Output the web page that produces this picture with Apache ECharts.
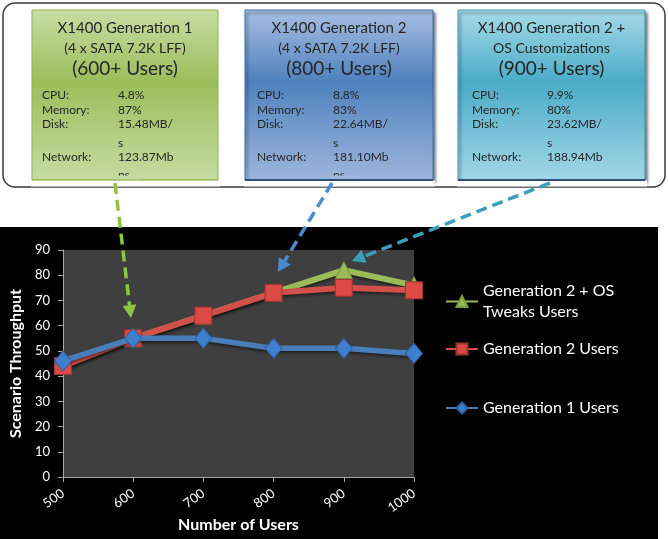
<!DOCTYPE html>
<html>
<head>
<meta charset="utf-8">
<script src="https://cdn.jsdelivr.net/npm/echarts@6/dist/echarts.min.js"></script>
<style>html,body{margin:0;padding:0;background:#fff;}#c{width:668px;height:539px;}</style>
</head>
<body>
<div id="c"></div>
<script>
// ---- data ----
const categories = ['500', '600', '700', '800', '900', '1000'];
const gen1Users = [46, 55, 55, 51, 51, 49];
const gen2Users = [44, 55, 64, 73, 75, 74];
const gen2OsUsers = [44, 55, 64, 73, 82, 76];
const seriesNames = ['Generation 2 + OS Tweaks Users', 'Generation 2 Users', 'Generation 1 Users'];
const yTicks = { min: 0, max: 90, interval: 10 };

const boxTitles = [
  ['X1400 Generation 1', '(4 x SATA 7.2K LFF)', '(600+ Users)'],
  ['X1400 Generation 2', '(4 x SATA 7.2K LFF)', '(800+ Users)'],
  ['X1400 Generation 2 +', 'OS Customizations', '(900+ Users)']
];
const statLabels = ['CPU:', 'Memory:', 'Disk:', '', 'Network:'];
const boxStats = [
  ['4.8%', '87%', '15.48MB/', 's', '123.87Mb'],
  ['8.8%', '83%', '22.64MB/', 's', '181.10Mb'],
  ['9.9%', '80%', '23.62MB/', 's', '188.94Mb']
];
const boxClipped = ['ps', 'ps', ''];

// ---- layout / styles ----
const boxes = [
  { x: 32, w: 186, lx: 42, vx: 118, c: ['#c9dda4', '#9cbd5b', '#c6dba2'], border: '#8fb54a', shadow: false },
  { x: 245, w: 188, lx: 257, vx: 333, c: ['#a9bfe2', '#4f81bd', '#9db6dc'], border: '#3f6fae', shadow: true },
  { x: 458, w: 187, lx: 472, vx: 547, c: ['#a8dbe9', '#4aabc7', '#a2d7e7'], border: '#3b9cb8', shadow: true }
];
const boxTop = 10, boxH = 170;
const titleY = [28, 48, 69];
const statY = [95, 110, 124, 143, 157];
const boxFont = 'Lato, "Open Sans", sans-serif';

const graphics = [];
graphics.push({ type: 'rect', z: -100, shape: { x: 0, y: 227, width: 658, height: 312 }, style: { fill: '#000' }, silent: true });
graphics.push({ type: 'rect', z: 1, shape: { x: 3, y: 3, width: 662, height: 184, r: 12 }, style: { fill: '#fff', stroke: '#3c3c3c', lineWidth: 1.5 } });

boxes.forEach((b, i) => {
  graphics.push({
    type: 'rect', z: 2,
    shape: { x: b.x, y: boxTop, width: b.w, height: boxH },
    style: {
      fill: { type: 'linear', x: 0, y: 0, x2: 0, y2: 1, colorStops: [
        { offset: 0, color: b.c[0] }, { offset: 0.42, color: b.c[1] }, { offset: 1, color: b.c[2] }] },
      stroke: b.border, lineWidth: 1,
      shadowBlur: b.shadow ? 3 : 0, shadowOffsetX: b.shadow ? 2 : 0, shadowOffsetY: b.shadow ? 3 : 0,
      shadowColor: 'rgba(0,0,0,0.55)'
    }
  });
  const cx = b.x + b.w / 2;
  boxTitles[i].forEach((t, k) => {
    graphics.push({ type: 'text', z: 3, x: cx, y: titleY[k],
      style: { text: t, fill: '#262626', font: (k === 2 ? '19px ' : (k === 0 ? '15px ' : '14px ')) + boxFont, textAlign: 'center', textVerticalAlign: 'middle' } });
  });
  statLabels.forEach((t, k) => {
    if (t) graphics.push({ type: 'text', z: 3, x: b.lx, y: statY[k],
      style: { text: t, fill: '#262626', font: '12px ' + boxFont, textAlign: 'left', textVerticalAlign: 'middle' } });
    graphics.push({ type: 'text', z: 3, x: b.vx, y: statY[k],
      style: { text: boxStats[i][k], fill: '#262626', font: '12px ' + boxFont, textAlign: 'left', textVerticalAlign: 'middle' } });
  });
  if (boxClipped[i]) {
    graphics.push({ type: 'text', z: 3, x: b.vx, y: 169,
      style: { text: boxClipped[i], fill: '#262626', font: '12px ' + boxFont, textAlign: 'left', textVerticalAlign: 'top' } });
    // hide the lower part of the clipped text (box bottom colour)
    graphics.push({ type: 'rect', z: 4, shape: { x: b.vx - 2, y: 175.5, width: 24, height: 4.5 }, style: { fill: b.c[2] } });
  }
  // cover overflow below box
  graphics.push({ type: 'rect', z: 4, shape: { x: b.x - 1, y: boxTop + boxH + 0.5, width: b.w + 3, height: 6 }, style: { fill: '#fff' } });
  graphics.push({ type: 'line', z: 5, shape: { x1: b.x, y1: boxTop + boxH, x2: b.x + b.w, y2: boxTop + boxH }, style: { stroke: b.shadow ? '#2e4e78' : b.border, lineWidth: b.shadow ? 2 : 1 } });
});

// dashed annotation arrows
function arrow(x1, y1, tx, ty, color) {
  const dx = tx - x1, dy = ty - y1, L = Math.hypot(dx, dy);
  const ux = dx / L, uy = dy / L, px = -uy, py = ux;
  const bx = tx - 13 * ux, by = ty - 13 * uy;
  graphics.push({ type: 'line', z: 100, shape: { x1: x1, y1: y1, x2: bx, y2: by },
    style: { stroke: color, lineWidth: 3.5, lineDash: [11, 6] } });
  graphics.push({ type: 'polygon', z: 100, shape: { points: [[tx, ty], [bx + 7 * px, by + 7 * py], [bx - 7 * px, by - 7 * py]] },
    style: { fill: color } });
}
arrow(115, 183, 131, 318, '#8cc63f');
arrow(332, 183, 278, 272, '#4a8ad0');
arrow(550, 183, 352, 261, '#3a9fb8');

const chartFont = 'Lato, "Open Sans", sans-serif';
const lineShadow = { shadowColor: 'rgba(0,0,0,0.5)', shadowBlur: 3, shadowOffsetY: 2 };
const chart = echarts.init(document.getElementById('c'), null, { renderer: 'canvas' });
chart.setOption({
  backgroundColor: '#fff',
  animation: false,
  graphic: graphics,
  grid: { left: 61, right: 254, top: 250, bottom: 62, show: true, backgroundColor: '#3f3f3f', borderWidth: 0, containLabel: false },
  legend: [
    { data: [seriesNames[0]], left: 445, top: 270, orient: 'vertical', padding: 0, itemWidth: 32, itemHeight: 14,
      formatter: () => 'Generation 2 + OS\nTweaks Users',
      textStyle: { color: '#fff', fontSize: 16, fontFamily: chartFont, lineHeight: 21, padding: [21, 0, 0, 0] } },
    { data: [seriesNames[1]], left: 445, top: 341, padding: 0, itemWidth: 32, itemHeight: 14,
      textStyle: { color: '#fff', fontSize: 16, fontFamily: chartFont } },
    { data: [seriesNames[2]], left: 445, top: 400, padding: 0, itemWidth: 32, itemHeight: 14,
      textStyle: { color: '#fff', fontSize: 16, fontFamily: chartFont } }
  ],
  xAxis: {
    type: 'category', data: categories, boundaryGap: false,
    name: 'Number of Users', nameLocation: 'middle', nameGap: 36,
    nameTextStyle: { color: '#fff', fontSize: 16, fontWeight: 'bold', fontFamily: chartFont },
    axisLine: { lineStyle: { color: '#a6a6a6', width: 1 } },
    axisTick: { show: true, length: 5, lineStyle: { color: '#a6a6a6' } },
    axisLabel: { color: '#fff', fontSize: 13, fontFamily: chartFont, rotate: 35, margin: 15 },
    splitLine: { show: false }
  },
  yAxis: {
    type: 'value', min: yTicks.min, max: yTicks.max, interval: yTicks.interval,
    name: 'Scenario Throughput', nameLocation: 'middle', nameGap: 36,
    nameTextStyle: { color: '#fff', fontSize: 16, fontWeight: 'bold', fontFamily: chartFont },
    axisLine: { show: true, lineStyle: { color: '#a6a6a6', width: 1 } },
    axisTick: { show: true, length: 5, lineStyle: { color: '#a6a6a6' } },
    axisLabel: { color: '#fff', fontSize: 13, fontFamily: chartFont, margin: 13 },
    splitLine: { show: false }
  },
  series: [
    { name: seriesNames[0], type: 'line', data: gen2OsUsers, symbol: 'triangle', symbolSize: 17,
      lineStyle: Object.assign({ color: '#9bbb59', width: 6 }, lineShadow), itemStyle: { color: '#9bbb59', borderColor: '#7a9a3c', borderWidth: 1 }, z: 2 },
    { name: seriesNames[1], type: 'line', data: gen2Users, symbol: 'rect', symbolSize: 17,
      lineStyle: Object.assign({ color: '#d2504c', width: 6 }, lineShadow), itemStyle: { color: '#dc4a45', borderColor: '#9e3430', borderWidth: 1 }, z: 3 },
    { name: seriesNames[2], type: 'line', data: gen1Users, symbol: 'diamond', symbolSize: [17, 20],
      lineStyle: Object.assign({ color: '#4a7ebb', width: 5.5 }, lineShadow), itemStyle: { color: '#3f7fd0', borderColor: '#2f5f9a', borderWidth: 1 }, z: 4 }
  ]
});
</script>
</body>
</html>
